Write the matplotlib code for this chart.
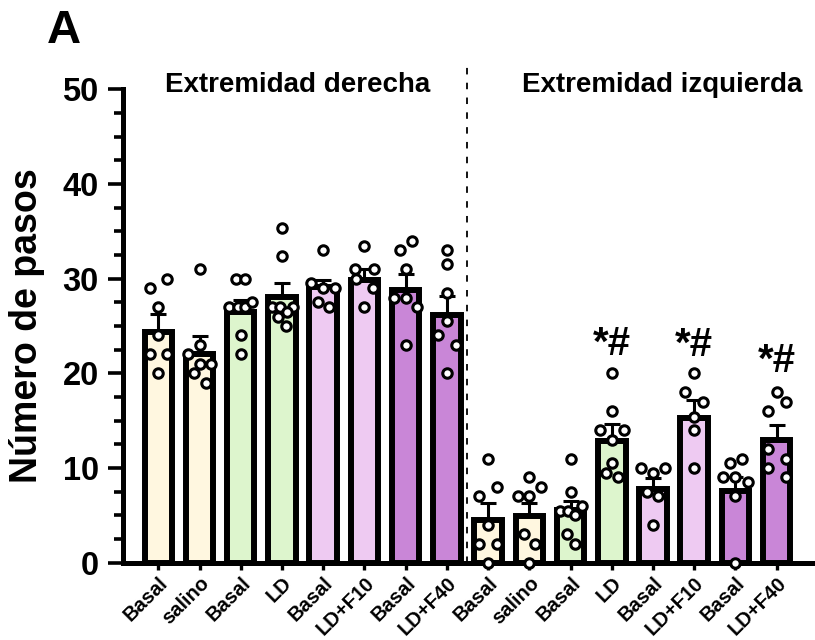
import matplotlib
matplotlib.use("Agg")
import matplotlib.pyplot as plt
import numpy as np

plt.rcParams['font.family'] = ['Liberation Sans', 'DejaVu Sans']
plt.rcParams['font.weight'] = 'bold'

# ---------------- data ----------------
labels = ["Basal", "salino", "Basal", "LD", "Basal", "LD+F10", "Basal", "LD+F40",
          "Basal", "salino", "Basal", "LD", "Basal", "LD+F10", "Basal", "LD+F40"]
means = [24.4, 22.0, 26.5, 28.1, 29.1, 29.9, 28.8, 26.2,
         4.5, 4.9, 5.6, 12.9, 7.8, 15.3, 7.6, 13.0]
sems = [1.9, 1.9, 1.2, 1.4, 0.8, 1.1, 1.7, 2.0,
        1.8, 1.4, 0.9, 1.7, 1.1, 1.9, 1.5, 1.5]
points = [
    [29, 30, 27, 24, 22, 22, 20],
    [31, 23, 22, 21, 21, 20, 19],
    [30, 30, 27, 27, 27, 27.5, 24, 22],
    [35.3, 32.4, 27, 27, 27, 26, 26.5, 25],
    [33, 29.5, 29, 29, 27.5, 27],
    [33.4, 31, 31, 30, 29, 27],
    [33, 34, 31, 28, 28, 27, 23],
    [33, 31.5, 28.5, 25.5, 24, 23, 20],
    [11, 8, 7, 4, 2, 2, 0],
    [9, 8, 7, 7, 3, 2, 0],
    [11, 7.5, 5.5, 5.5, 6, 5, 3, 2],
    [20.0, 16, 14, 14, 13, 10.5, 9.5, 9],
    [10, 10, 9.5, 7.5, 7, 4],
    [20, 18, 17, 15.4, 14, 10],
    [10.5, 11, 9, 9, 8.5, 7, 0],
    [18, 17, 16, 12, 11, 10, 9],
]
# horizontal jitter of each dot, in dot widths
jitter = [
    [-1, 1, 0, 0, -1, 1, 0],
    [0, 0, -1.3, 0, 1.3, -0.6, 0.7],
    [-0.5, 0.5, -1.3, -0.35, 0.5, 1.35, 0, 0],
    [0, 0, -1.2, -0.25, 1.25, -0.45, 0.55, 0.45],
    [0, -1.4, 0, 1.35, -0.65, 0.7],
    [0, -1.05, 1.05, -1.0, 1.0, 0],
    [-0.65, 0.7, 0, -1.3, 0, 1.3, 0],
    [0, 0, 0, 0, -1.05, 1.05, 0],
    [0, 1, -1, 0, -1, 1, 0],
    [0, 1.35, -1.3, 0, -0.65, 0.65, 0],
    [0, 0, -1.25, -0.25, 1.3, 0.5, -0.45, 0.5],
    [0, 0, -1.35, 1.35, 0, 0, -0.7, 0.75],
    [-1.35, 1.35, 0, -0.65, 0.6, 0],
    [0, -1.05, 1.05, 0, 0, 0],
    [-0.65, 0.7, -1.4, 0, 1.4, 0, 0],
    [0, 1.05, -1.0, -1.0, 1.05, -1.0, 1.05],
]
colors = ["#FFF7E0", "#FFF7E0", "#DDF5CD", "#DDF5CD", "#EECAF2", "#EECAF2", "#C986D7", "#C986D7",
          "#FFF7E0", "#FFF7E0", "#DDF5CD", "#DDF5CD", "#EECAF2", "#EECAF2", "#C986D7", "#C986D7"]
sig_bars = [11, 13, 15]
sig_y = [23.1, 23.0, 21.3]
group_titles = ["Extremidad derecha", "Extremidad izquierda"]
group_title_x = [3.39, 12.23]

# ---------------- figure ----------------
fig = plt.figure(figsize=(8.15, 6.4), dpi=100)
ax = fig.add_axes([123 / 815, 77.3 / 640, 692 / 815, 473.4 / 640])

x = np.arange(len(means))
ax.bar(x, means, width=0.667, color=colors, edgecolor="black", linewidth=4.3, zorder=2)
ax.errorbar(x, means, yerr=[np.zeros(len(sems)), sems], fmt="none", ecolor="black",
            elinewidth=2.2, capsize=6, capthick=2.2, zorder=3)

dot_w = 0.211
for i, (vals, jit) in enumerate(zip(points, jitter)):
    ax.plot(i + np.array(jit) * dot_w, vals, "o", ms=6.8, mfc="white", mec="black",
            mew=2.2, zorder=5, clip_on=False)

ax.set_xlim(-0.856, 15.93)
ax.set_ylim(0, 50)
ax.set_yticks(np.arange(0, 51, 10))
ax.set_yticks(np.arange(0, 50.1, 2.5), minor=True)
ax.set_xticks(x)
ax.set_xticklabels(labels, rotation=45, ha="right", va="top", rotation_mode="anchor",
                   fontsize=14.5, fontweight="bold")
for lab in ax.get_yticklabels():
    lab.set_fontsize(23.5)
    lab.set_fontweight("bold")

ax.tick_params(axis="y", which="major", length=11, width=2.6, pad=6.5)
ax.tick_params(axis="y", which="minor", length=6.5, width=2.6)
ax.tick_params(axis="x", which="major", length=5, width=2.4, pad=3)

for s in ["top", "right"]:
    ax.spines[s].set_visible(False)
for s in ["left", "bottom"]:
    ax.spines[s].set_linewidth(3.6)

ax.set_ylabel("Número de pasos", fontsize=27, fontweight="bold")
ax.yaxis.set_label_coords(-0.112, 0.5)

ax.plot([7.5, 7.5], [0, 52.5], color="black", lw=1.3, linestyle=(0, (3.6, 4.6)),
        clip_on=False, zorder=1)

for t, tx in zip(group_titles, group_title_x):
    ax.text(tx, 49.7, t, ha="center", va="baseline", fontsize=20, fontweight="bold")

for b, sy in zip(sig_bars, sig_y):
    ax.text(b, sy, "*#", ha="center", va="center", fontsize=29, fontweight="bold")

fig.text(47 / 815, 1 - 43.3 / 640, "A", ha="left", va="baseline", fontsize=34,
         fontweight="bold")

fig.savefig("out.png", dpi=100)
